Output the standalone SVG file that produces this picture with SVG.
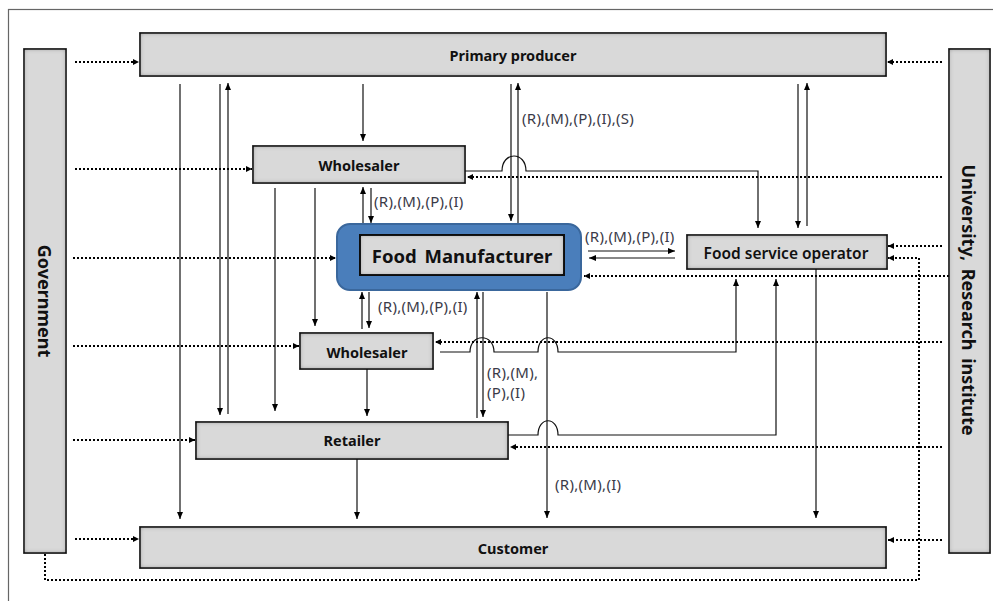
<svg xmlns="http://www.w3.org/2000/svg" width="993" height="601" viewBox="0 0 993 601">
<style>
.box{fill:#d9d9d9;stroke:#1a1a1a;stroke-width:1.5;filter:url(#inset)}
.lbl{font-family:"Noto Sans","Open Sans",sans-serif;font-weight:bold;fill:#111;text-anchor:middle;dominant-baseline:central}
.sm{font-family:"Noto Sans","Open Sans",sans-serif;font-size:15px;letter-spacing:0.3px;fill:#3a3a48;}
.c{fill:none;stroke:#111;stroke-width:1.2;marker-end:url(#a)}
.d{fill:none;stroke:#000;stroke-width:2;stroke-dasharray:2 2;marker-end:url(#b)}
</style>
<defs>
<filter id="inset" x="-5%" y="-20%" width="110%" height="140%">
<feFlood flood-color="#000" flood-opacity="0.9" result="f"/>
<feComposite in="f" in2="SourceAlpha" operator="out" result="o"/>
<feGaussianBlur in="o" stdDeviation="2.8" result="bl"/>
<feComposite in="bl" in2="SourceAlpha" operator="in" result="sh"/>
<feMerge><feMergeNode in="SourceGraphic"/><feMergeNode in="sh"/></feMerge>
</filter>
<marker id="a" markerWidth="8" markerHeight="8" refX="7" refY="4" orient="auto" markerUnits="userSpaceOnUse"><path d="M0,1 L7,4 L0,7 z" fill="#000"/></marker>
<marker id="b" markerWidth="8" markerHeight="8" refX="6" refY="4" orient="auto" markerUnits="userSpaceOnUse"><path d="M0,1 L6,4 L0,7 z" fill="#000"/></marker>
</defs>
<rect width="993" height="601" fill="#fff"/>
<rect x="8.5" y="9.5" width="1000" height="1000" fill="none" stroke="#666" stroke-width="1.2"/>

<g id="connectors">
<path class="c" d="M180 84 V519"/>
<path class="c" d="M220 84 V415"/>
<path class="c" d="M228 414 V83"/>
<path class="c" d="M363 84 V141"/>
<path class="c" d="M511 84 V221"/>
<path class="c" d="M518 224 V83"/>
<path class="c" d="M798 84 V228"/>
<path class="c" d="M807 226 V83"/>
<path class="c" d="M275 188 V411"/>
<path class="c" d="M315 188 V326"/>
<path class="c" d="M363 224 V187"/>
<path class="c" d="M371 188 V223"/>
<path class="c" d="M465 171 H502 C502 151 526 151 526 171 H758 V228"/>
<path class="c" d="M362 329 V292"/>
<path class="c" d="M369 292 V328"/>
<path class="c" d="M367 369 V416"/>
<path class="c" d="M440 352 H470 C470 333 494 333 494 352 H538 C538 333 558 333 558 352 H736 V279"/>
<path class="c" d="M477 418 V292"/>
<path class="c" d="M483 292 V417"/>
<path class="c" d="M547 292 V518"/>
<path class="c" d="M508 435 H538 C538 416 558 416 558 435 H776 V279"/>
<path class="c" d="M357 459 V519"/>
<path class="c" d="M816 269 V518"/>
<path class="c" d="M588 251 H675"/>
<path class="c" d="M675 258 H589"/>
<path class="d" d="M75 62 H139"/>
<path class="d" d="M75 169 H252"/>
<path class="d" d="M73 258 H336"/>
<path class="d" d="M73 346 H299"/>
<path class="d" d="M73 440 H195"/>
<path class="d" d="M75 539 H139"/>
<path class="d" d="M45 554 V580 H919 V258 H888"/>
<path class="d" d="M942 62 H887"/>
<path class="d" d="M942 177 H467"/>
<path class="d" d="M942 246 H888"/>
<path class="d" d="M949 276 H584"/>
<path class="d" d="M942 342 H435"/>
<path class="d" d="M942 447 H510"/>
<path class="d" d="M942 540 H888"/>
<text class="sm" x="522" y="124">(R),(M),(P),(I),(S)</text>
<text class="sm" x="374" y="207">(R),(M),(P),(I)</text>
<text class="sm" x="585" y="242">(R),(M),(P),(I)</text>
<text class="sm" x="378" y="312">(R),(M),(P),(I)</text>
<text class="sm" x="487" y="378">(R),(M),</text>
<text class="sm" x="487" y="398">(P),(I)</text>
<text class="sm" x="555" y="490">(R),(M),(I)</text>
</g>

<g id="government">
<rect class="box" x="24" y="49" width="42" height="504"/>
<text class="lbl" font-size="18" transform="translate(45 301) rotate(90)">Government</text>
</g>
<g id="university">
<rect class="box" x="949" y="49" width="41" height="504"/>
<text class="lbl" font-size="18" word-spacing="3" transform="translate(969 300) rotate(90)">University,  Research institute</text>
</g>
<g id="primary-producer">
<rect class="box" x="140" y="33" width="746" height="43"/>
<text class="lbl" font-size="14.5" x="513" y="55">Primary producer</text>
</g>
<g id="wholesaler-1">
<rect class="box" x="253" y="146" width="212" height="37"/>
<text class="lbl" font-size="14.5" x="359" y="165">Wholesaler</text>
</g>
<g id="food-manufacturer">
<rect x="337" y="224" width="244" height="66" rx="13" fill="#4a7ebb" stroke="#3a679c" stroke-width="2"/>
<rect class="box" x="360" y="235" width="204" height="40" style="stroke-width:2"/>
<text class="lbl" font-size="18.5" word-spacing="3" x="462" y="255">Food Manufacturer</text>
</g>
<g id="food-service-operator">
<rect class="box" x="687" y="235" width="200" height="34"/>
<text class="lbl" font-size="15.5" x="786" y="253" style="font-weight:600">Food service operator</text>
</g>
<g id="wholesaler-2">
<rect class="box" x="300" y="333" width="133" height="36"/>
<text class="lbl" font-size="14.5" x="367" y="352">Wholesaler</text>
</g>
<g id="retailer">
<rect class="box" x="196" y="422" width="312" height="37"/>
<text class="lbl" font-size="14.5" x="352" y="440">Retailer</text>
</g>
<g id="customer">
<rect class="box" x="140" y="527" width="746" height="41"/>
<text class="lbl" font-size="14.5" x="513" y="548">Customer</text>
</g>
</svg>
